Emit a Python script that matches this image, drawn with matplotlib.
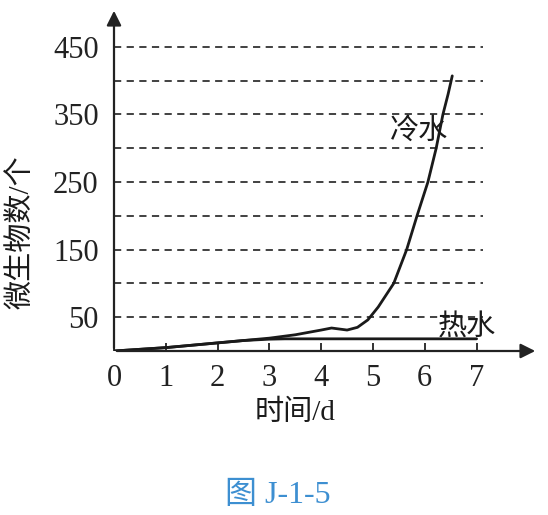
import matplotlib
matplotlib.use("Agg")
import matplotlib.pyplot as plt

plt.rcParams['font.family'] = ['Liberation Serif', 'Noto Sans CJK SC', 'DejaVu Sans']

# Data
cold_x = [0, 0.5, 1, 1.5, 2, 2.5, 3, 3.5, 4, 4.2, 4.5, 4.7, 4.9, 5.1, 5.4, 5.65, 5.85, 6.06, 6.22, 6.35, 6.45, 6.53]
cold_y = [0, 2.5, 5, 8.5, 12, 15.5, 19, 24, 31, 34, 31, 35, 46, 65, 100, 150, 200, 250, 300, 350, 380, 407]
hot_x = [0, 0.5, 1, 1.5, 2, 2.5, 3, 3.3, 4, 5, 6, 7]
hot_y = [0, 2.5, 5, 8.5, 12, 15.5, 17.5, 18, 18, 18, 18, 18]
grid_vals = [50, 100, 150, 200, 250, 300, 350, 400, 450]
ytick_vals = [50, 150, 250, 350, 450]
xtick_vals = [0, 1, 2, 3, 4, 5, 6, 7]
xlabel = "时间/d"
ylabel = "微生物数/个"
cold_label = "冷水"
hot_label = "热水"
caption = "图 J-1-5"

W, H = 548, 515
fig = plt.figure(figsize=(W / 100, H / 100), dpi=100)
x0, y0 = 114, 351
xend, ytop = 538, 8
ax = fig.add_axes([x0 / W, (H - y0) / H, (xend - x0) / W, (y0 - ytop) / H])
ax.set_xlim(0, (xend - x0) / 51.8)
ax.set_ylim(0, (y0 - ytop) / 33.8 * 50)
for s in ax.spines.values():
    s.set_visible(False)

# axes with arrows
ax.annotate("", xy=(1, 0), xytext=(0, 0), xycoords='axes fraction',
            arrowprops=dict(arrowstyle='-|>', lw=1.6, color='#222222', mutation_scale=22))
ax.annotate("", xy=(0, 1), xytext=(0, 0), xycoords='axes fraction',
            arrowprops=dict(arrowstyle='-|>', lw=1.6, color='#222222', mutation_scale=22))

# dashed gridlines
ax.hlines(grid_vals, 0, 7.12, colors='#333333', linestyles=(0, (4, 3)), lw=1.3)

# curves
ax.plot(cold_x, cold_y, color='#1a1a1a', lw=2.0, solid_capstyle='round', solid_joinstyle='round')
ax.plot(hot_x, hot_y, color='#1a1a1a', lw=2.0, solid_capstyle='round', solid_joinstyle='round')

# ticks
ax.set_xticks(xtick_vals)
ax.set_xticklabels([str(v) for v in xtick_vals], fontsize=22)
ax.tick_params(axis='x', direction='in', length=6, width=1.3, pad=9, colors='#222222')
ax.set_yticks(ytick_vals)
ax.set_yticklabels([str(v) for v in ytick_vals], fontsize=22)
ax.tick_params(axis='y', length=0, pad=11, colors='#222222')
lbl0 = ax.get_xticklabels()[0]

ax.text(6.45, 325, cold_label, fontsize=21, ha='right', va='center', color='#1a1a1a')
ax.text(6.25, 35, hot_label, fontsize=21, ha='left', va='center', color='#1a1a1a')

fig.text(295 / W, 1 - 413 / H, xlabel, fontsize=21, ha='center', va='center', color='#1a1a1a')
fig.text(21 / W, 1 - 232 / H, ylabel, fontsize=21, ha='center', va='center', rotation=90, color='#1a1a1a')
fig.text(278 / W, 1 - 496 / H, caption, fontsize=23, ha='center', va='center', color='#3d8fd1')

fig.savefig("out.png", dpi=100)
